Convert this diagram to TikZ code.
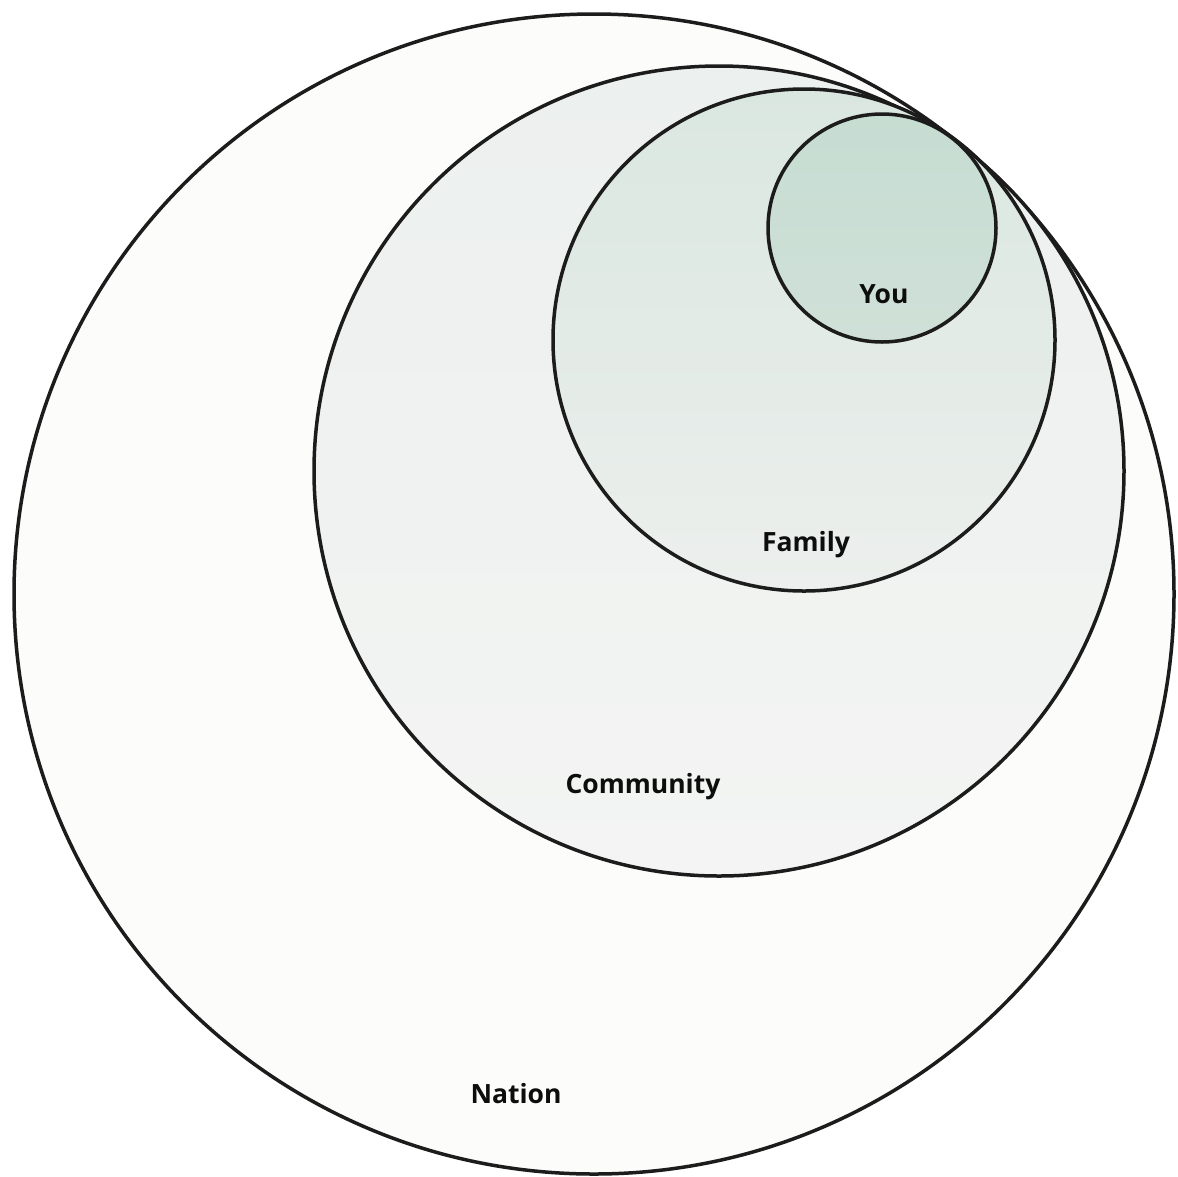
\documentclass[tikz,border=0pt]{standalone}
\usepackage{fontspec}
\setmainfont{Open Sans}
\definecolor{inkline}{RGB}{28,28,28}
\definecolor{nationfill}{RGB}{252,252,251}
\definecolor{commtop}{RGB}{236,240,238}
\definecolor{commbot}{RGB}{243,244,243}
\definecolor{famtop}{RGB}{218,231,224}
\definecolor{fambot}{RGB}{236,239,237}
\definecolor{youtop}{RGB}{198,221,210}
\definecolor{youbot}{RGB}{208,224,216}
\begin{document}
\begin{tikzpicture}[x=1pt,y=-1pt,
  ring/.style={circle, draw=inkline, line width=3.5pt, inner sep=0pt, outer sep=0pt},
  lbl/.style={font=\fontsize{26.5}{32}\selectfont\bfseries, text=black!95, inner sep=0pt}]
  % page
  \fill[white] (0,0) rectangle (1178,1176);
  \useasboundingbox (0,0) rectangle (1178,1176);

  % nested spheres, all touching near the upper right
  \node[ring, fill=nationfill, minimum size=1160pt] (nation) at (594,594) {};
  \node[ring, top color=commtop, bottom color=commbot, minimum size=810pt] (community) at (719,471) {};
  \node[ring, top color=famtop, bottom color=fambot, minimum size=502pt] (family) at (804,340) {};
  \node[ring, top color=youtop, bottom color=youbot, minimum size=228pt] (you) at (882,228) {};

  % labels
  \node[lbl] (tyou) at (884,294) {You};
  \node[lbl] (tfamily) at (806,545) {Family};
  \node[lbl] (tcommunity) at (643,787) {Community};
  \node[lbl] (tnation) at (516,1094) {Nation};
\end{tikzpicture}
\end{document}
